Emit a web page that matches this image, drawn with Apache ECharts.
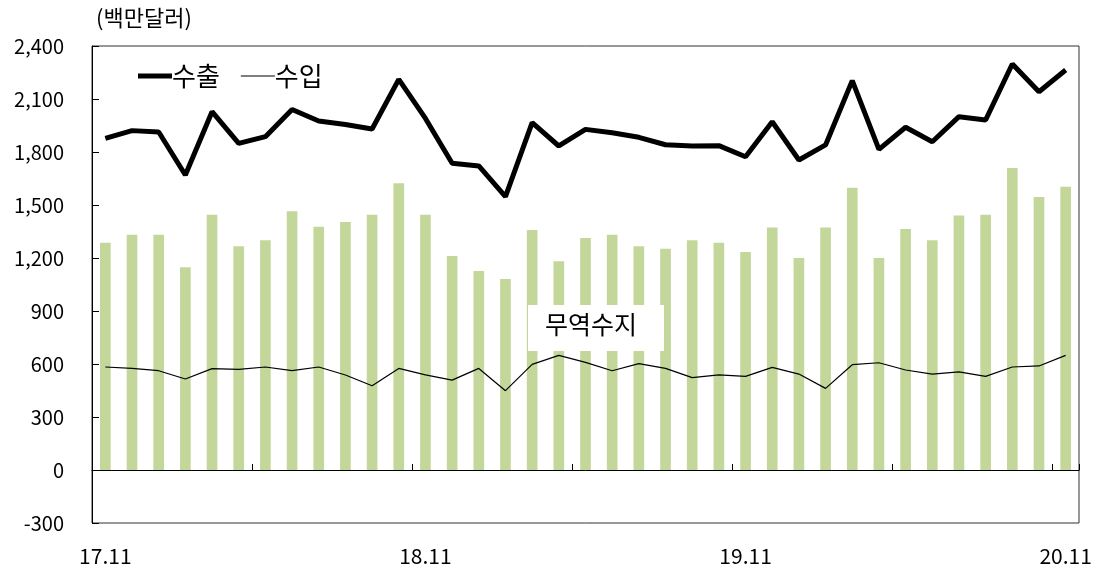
<!DOCTYPE html>
<html>
<head>
<meta charset="utf-8">
<script src="https://cdn.jsdelivr.net/npm/echarts@6/dist/echarts.min.js"></script>
<style>
  html, body { margin: 0; padding: 0; background: #fff; }
  #chart { width: 1100px; height: 573px; }
</style>
</head>
<body>
<div id="chart"></div>
<script>
// 월별 카테고리 (17.11 ~ 20.11)
const categories = [
  '17.11', '17.12', '18.01', '18.02', '18.03', '18.04', '18.05', '18.06', '18.07', '18.08', '18.09', '18.10',
  '18.11', '18.12', '19.01', '19.02', '19.03', '19.04', '19.05', '19.06', '19.07', '19.08', '19.09', '19.10',
  '19.11', '19.12', '20.01', '20.02', '20.03', '20.04', '20.05', '20.06', '20.07', '20.08', '20.09', '20.10',
  '20.11'
]

// 수출 (백만달러)
const exportsData = [
  1877, 1921, 1913, 1670, 2028, 1849, 1887, 2041, 1975, 1956, 1930, 2211,
  1990, 1736, 1721, 1547, 1966, 1834, 1928, 1909, 1883, 1841, 1834, 1836,
  1773, 1971, 1755, 1840, 2204, 1815, 1940, 1858, 2000, 1981, 2298, 2141,
  2264
]

// 수입 (백만달러)
const importsData = [
  583, 575, 562, 515, 574, 570, 583, 562, 583, 538, 477, 575,
  538, 509, 575, 449, 598, 649, 609, 562, 602, 575, 523, 538,
  530, 581, 543, 462, 596, 607, 566, 543, 555, 530, 583, 589,
  649
]

// 무역수지 (백만달러)
const balanceData = [
  1287, 1332, 1332, 1147, 1445, 1266, 1300, 1464, 1377, 1404, 1445, 1623,
  1445, 1211, 1126, 1081, 1358, 1181, 1313, 1332, 1266, 1253, 1300, 1287,
  1234, 1372, 1200, 1372, 1598, 1200, 1364, 1300, 1440, 1445, 1709, 1545,
  1603
]

const FONT = '"Noto Sans CJK KR", "Noto Sans", sans-serif'

const chart = echarts.init(document.getElementById('chart'))

const option = {
  animation: false,
  textStyle: { fontFamily: FONT, color: '#000' },
  title: {
    text: '(백만달러)',
    left: 96,
    top: 7,
    padding: 0,
    textStyle: { fontFamily: FONT, fontSize: 22, fontWeight: 'normal', color: '#000' }
  },
  legend: {
    left: 138,
    top: 63,
    padding: 0,
    itemWidth: 34,
    itemHeight: 14,
    itemGap: 21,
    symbolKeepAspect: true,
    textStyle: { fontFamily: FONT, fontSize: 26, color: '#000', padding: [0, 0, 0, -5] },
    // 굵은 선 / 가는 선 아이콘
    data: [
      { name: '수출', icon: 'path://M0,0H34V5H0Z', itemStyle: { color: '#000', borderWidth: 0 } },
      { name: '수입', icon: 'path://M0,0H34V1.2H0Z', itemStyle: { color: '#000', borderWidth: 0 } }
    ]
  },
  grid: {
    left: 92,
    right: 21,
    top: 46,
    bottom: 50,
    show: true,
    borderColor: '#303030',
    borderWidth: 1,
    backgroundColor: 'transparent'
  },
  xAxis: [
    {
      type: 'category',
      data: categories,
      boundaryGap: true,
      axisLine: { onZero: true, lineStyle: { color: '#000', width: 1 } },
      axisTick: {
        show: true,
        inside: true,
        length: 6,
        interval: (i) => i % 6 === 0,
        lineStyle: { color: '#000' }
      },
      axisLabel: { show: false },
      splitLine: { show: false }
    },
    {
      type: 'category',
      data: categories,
      position: 'bottom',
      boundaryGap: true,
      axisLine: { show: false, onZero: false },
      axisTick: { show: false },
      axisLabel: {
        interval: (i) => i % 12 === 0,
        margin: 23,
        fontSize: 21,
        fontFamily: FONT,
        color: '#000'
      },
      splitLine: { show: false }
    }
  ],
  yAxis: {
    type: 'value',
    min: -300,
    max: 2400,
    interval: 300,
    axisLine: { show: true, lineStyle: { color: '#000', width: 1 } },
    axisTick: { show: true, inside: true, length: 7, lineStyle: { color: '#000' } },
    axisLabel: {
      margin: 28,
      fontSize: 20,
      fontFamily: FONT,
      color: '#000',
      formatter: (v) => v.toLocaleString('en-US')
    },
    splitLine: { show: false }
  },
  series: [
    {
      name: '무역수지',
      type: 'bar',
      xAxisIndex: 0,
      data: balanceData,
      barWidth: '40%',
      itemStyle: { color: '#c4d79b' },
      z: 1
    },
    {
      name: '수출',
      type: 'line',
      xAxisIndex: 0,
      data: exportsData,
      symbol: 'none',
      lineStyle: { color: '#000', width: 5 },
      itemStyle: { color: '#000' },
      z: 3
    },
    {
      name: '수입',
      type: 'line',
      xAxisIndex: 0,
      data: importsData,
      symbol: 'none',
      lineStyle: { color: '#000', width: 1.2 },
      itemStyle: { color: '#000' },
      z: 3
    }
  ],
  // 무역수지 주석 상자
  graphic: [
    {
      type: 'rect',
      left: 528,
      top: 305,
      z: 100,
      shape: { width: 136, height: 46 },
      style: { fill: '#fff' }
    },
    {
      type: 'text',
      left: 545,
      top: 312,
      z: 101,
      style: {
        text: '무역수지',
        font: '25px "Noto Sans CJK KR", sans-serif',
        fill: '#000'
      }
    }
  ]
}

chart.setOption(option)
</script>
</body>
</html>
